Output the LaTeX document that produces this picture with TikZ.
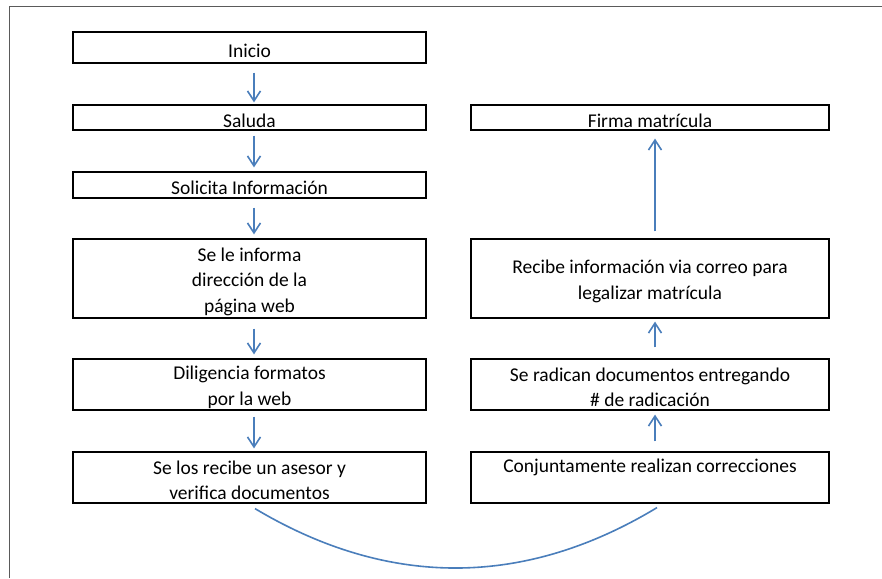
\documentclass[tikz,border=0pt]{standalone}
\usepackage{fontspec}
\setmainfont{Carlito}
\usetikzlibrary{arrows.meta}
\definecolor{flowblue}{HTML}{4A7EBB}
\definecolor{framegray}{HTML}{5A5A5A}
\tikzset{
  box/.style={draw=black, line width=1.2pt, rectangle, inner sep=0pt},
  lbox/.style={box, minimum width=353pt},
  rbox/.style={box, minimum width=358pt},
  txtfont/.style={font=\fontsize{19.5}{25.5}\selectfont, align=center, inner sep=0pt},
  txt/.style={label={[txtfont, yshift=-3pt]center:#1}},
  toptxt/.style={label={[txtfont, yshift=10.4pt]center:#1}},
  arr/.style={draw=flowblue, line width=1.6pt, -{Straight Barb[length=10pt,width=13pt,line width=1.6pt]}},
  link/.style={draw=flowblue, line width=1.6pt},
  frameline/.style={draw=framegray, line width=1pt}
}
\begin{document}
\begin{tikzpicture}[x=1pt,y=1pt]
\useasboundingbox (0,0) rectangle (882,578);
\fill[white] (0,0) rectangle (882,578);
\coordinate (ftl) at (9,571);
\coordinate (fbl) at (9,0);
\coordinate (ftr) at (882,571);
\draw[frameline] (fbl) -- (ftl) -- (ftr);

% left column
\node[lbox, minimum height=31pt, txt={Inicio}] (inicio) at (249.5,530.5) {};
\node[lbox, minimum height=25pt, txt={Saluda}] (saluda) at (249.5,460.5) {};
\node[lbox, minimum height=26pt, txt={Solicita Información}] (solicita) at (249.5,393) {};
\node[lbox, minimum height=79pt, txt={Se le informa\\dirección de la\\página web}] (informa) at (249.5,299.5) {};
\node[lbox, minimum height=51pt, txt={Diligencia formatos\\por la web}] (dilig) at (249.5,193.5) {};
\node[lbox, minimum height=51pt, txt={Se los recibe un asesor y\\verifica documentos}] (verif) at (249.5,100.5) {};

% right column
\node[rbox, minimum height=25pt, txt={Firma matrícula}] (firma) at (650,460.5) {};
\node[rbox, minimum height=79pt, txt={Recibe información via correo para\\legalizar matrícula}] (recibe) at (650,299.5) {};
\node[rbox, minimum height=51pt, txt={Se radican documentos entregando\\\# de radicación}] (radican) at (650,193.5) {};
\node[rbox, minimum height=51pt, toptxt={Conjuntamente realizan correcciones}] (conj) at (650,100.5) {};

% left arrows
\draw[arr] ([xshift=4.5pt,yshift=-9pt]inicio.south) -- ([xshift=4.5pt,yshift=2pt]saluda.north);
\draw[arr] ([xshift=4.5pt,yshift=-5pt]saluda.south) -- ([xshift=4.5pt,yshift=4pt]solicita.north);
\draw[arr] ([xshift=4.5pt,yshift=-9pt]solicita.south) -- ([xshift=4.5pt,yshift=4pt]informa.north);
\draw[arr] ([xshift=4.5pt,yshift=-10pt]informa.south) -- ([xshift=4.5pt,yshift=4pt]dilig.north);
\draw[arr] ([xshift=4.5pt,yshift=-6pt]dilig.south) -- ([xshift=4.5pt,yshift=3pt]verif.north);

% right arrows
\draw[arr] ([xshift=5pt,yshift=10pt]conj.north) -- ([xshift=5pt,yshift=-4pt]radican.south);
\draw[arr] ([xshift=5pt,yshift=11pt]radican.north) -- ([xshift=5pt,yshift=-3pt]recibe.south);
\draw[arr] ([xshift=5pt,yshift=7pt]recibe.north) -- ([xshift=5pt,yshift=-8pt]firma.south);

% bottom curve
\draw[link] ([xshift=5.5pt,yshift=-5pt]verif.south) .. controls (388,-10) and (524,-10) .. ([xshift=7pt,yshift=-4pt]conj.south);
\end{tikzpicture}
\end{document}
